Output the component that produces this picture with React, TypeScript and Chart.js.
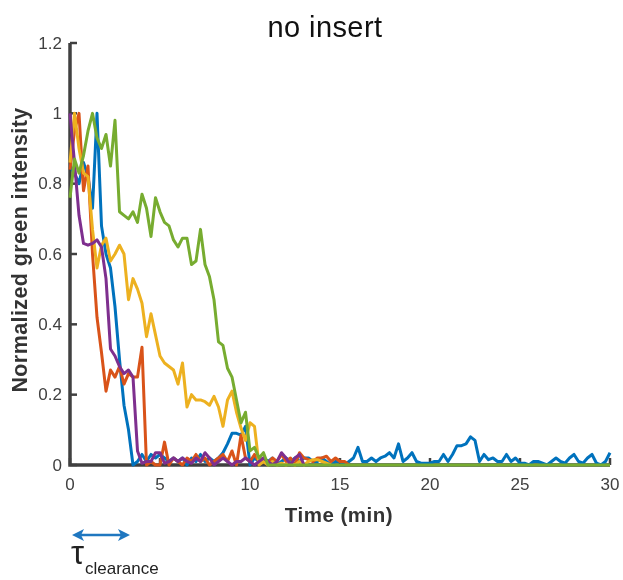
import React, { useEffect, useRef } from "react";
import { Chart, registerables } from "chart.js";

Chart.register(...registerables);

const TITLE = "no insert";
const X_LABEL = "Time (min)";
const Y_LABEL = "Normalized green intensity";
const ANNOT_MAIN = "τ";
const ANNOT_SUB = "clearance";

const X_TICKS = [0, 5, 10, 15, 20, 25, 30];
const X_TICK_LABELS = ["0", "5", "10", "15", "20", "25", "30"];
const Y_TICKS = [0, 0.2, 0.4, 0.6, 0.8, 1, 1.2];
const Y_TICK_LABELS = ["0", "0.2", "0.4", "0.6", "0.8", "1", "1.2"];

// sample times (min)
const TIME = [
  0, 0.25, 0.5, 0.75, 1, 1.25, 1.5, 1.75,
  2, 2.25, 2.5, 2.75, 3, 3.25, 3.5, 3.75,
  4, 4.25, 4.5, 4.75, 5, 5.25, 5.5, 5.75,
  6, 6.25, 6.5, 6.75, 7, 7.25, 7.5, 7.75,
  8, 8.25, 8.5, 8.75, 9, 9.25, 9.5, 9.75,
  10, 10.25, 10.5, 10.75, 11, 11.25, 11.5, 11.75,
  12, 12.25, 12.5, 12.75, 13, 13.25, 13.5, 13.75,
  14, 14.25, 14.5, 14.75, 15, 15.25, 15.5, 15.75,
  16, 16.25, 16.5, 16.75, 17, 17.25, 17.5, 17.75,
  18, 18.25, 18.5, 18.75, 19, 19.25, 19.5, 19.75,
  20, 20.25, 20.5, 20.75, 21, 21.25, 21.5, 21.75,
  22, 22.25, 22.5, 22.75, 23, 23.25, 23.5, 23.75,
  24, 24.25, 24.5, 24.75, 25, 25.25, 25.5, 25.75,
  26, 26.25, 26.5, 26.75, 27, 27.25, 27.5, 27.75,
  28, 28.25, 28.5, 28.75, 29, 29.25, 29.5, 29.75,
  30,
];

const BLUE = [
  0.85, 0.83, 0.8, 0.86, 0.82, 0.73, 1.0, 0.68,
  0.6, 0.56, 0.45, 0.3, 0.17, 0.1, 0.0, 0.01,
  0.03, 0.01, 0.03, 0.02, 0.03, 0.02, 0.01, 0.02,
  0.01, 0.02, 0.0, 0.02, 0.01, 0.03, 0.01, 0.02,
  0.01, 0.02, 0.035, 0.06, 0.09, 0.09, 0.085, 0.11,
  0.0, 0.02, 0.01, 0.02, 0.01, 0.02, 0.0, 0.01,
  0.02, 0.01, 0.02, 0.01, 0.02, 0.02, 0.01, 0.01,
  0.02, 0.01, 0.0, 0.01, 0.01, 0.0, 0.01, 0.02,
  0.05, 0.01, 0.01, 0.02, 0.01, 0.02, 0.025, 0.035,
  0.02, 0.06, 0.01, 0.02, 0.035, 0.01, 0.005, 0.005,
  0.005, 0.01, 0.01, 0.03, 0.01, 0.03, 0.055, 0.055,
  0.06, 0.08, 0.07, 0.01, 0.03, 0.015, 0.02, 0.01,
  0.01, 0.03, 0.01, 0.02, 0.005, 0.005, 0.0, 0.01,
  0.01, 0.005, 0.0, 0.01, 0.02, 0.01, 0.005, 0.02,
  0.03, 0.01, 0.005, 0.02, 0.03, 0.005, 0.0, 0.01,
  0.035,
];

const ORANGE = [
  0.84, 0.95, 1.0, 0.78, 0.85, 0.6, 0.42, 0.32,
  0.21, 0.27, 0.25, 0.28, 0.23, 0.26, 0.25, 0.25,
  0.335, 0.0, 0.01, 0.0, 0.0, 0.065, 0.0, 0.02,
  0.01, 0.0, 0.02, 0.01, 0.03, 0.01, 0.02, 0.0,
  0.01, 0.02, 0.03, 0.01, 0.04, 0.0, 0.085, 0.02,
  0.01, 0.03, 0.01, 0.02, 0.005, 0.02, 0.01, 0.03,
  0.01, 0.02, 0.0, 0.035, 0.02, 0.015, 0.01, 0.02,
  0.02, 0.025, 0.01, 0.02, 0.01, 0.01, 0.0,
];

const YELLOW = [
  0.86, 1.0, 0.9, 0.83, 0.82, 0.67, 0.56, 0.625,
  0.645, 0.58, 0.6, 0.625, 0.6, 0.47, 0.53, 0.5,
  0.46, 0.365, 0.43, 0.37, 0.31, 0.29, 0.28, 0.27,
  0.23, 0.29, 0.165, 0.2, 0.185, 0.185, 0.18, 0.17,
  0.195, 0.165, 0.11, 0.185, 0.21, 0.15, 0.105, 0.07,
  0.12, 0.11, 0.0, 0.01, 0.0, 0.01, 0.0, 0.005,
  0.0, 0.005, 0.0, 0.01, 0.0, 0.01, 0.015, 0.015,
  0.01, 0.005, 0.0,
];

const PURPLE = [
  1.0, 0.86, 0.71, 0.63, 0.625, 0.63, 0.64, 0.62,
  0.53, 0.33, 0.31, 0.28, 0.26, 0.27, 0.25, 0.04,
  0.005, 0.01, 0.01, 0.035, 0.035, 0.005, 0.01, 0.02,
  0.01, 0.02, 0.01, 0.005, 0.02, 0.01, 0.035, 0.02,
  0.0, 0.01, 0.02, 0.01, 0.0, 0.01, 0.01, 0.02,
  0.01, 0.0, 0.01, 0.02, 0.01, 0.0, 0.01, 0.035,
  0.02, 0.0, 0.02, 0.03, 0.0,
];

const GREEN = [
  0.76, 0.87, 0.83, 0.88, 0.95, 1.0, 0.93, 0.9,
  0.94, 0.85, 0.98, 0.72, 0.71, 0.7, 0.72, 0.69,
  0.77, 0.73, 0.65, 0.76, 0.72, 0.69, 0.68, 0.64,
  0.62, 0.645, 0.645, 0.57, 0.58, 0.67, 0.57, 0.535,
  0.47, 0.35, 0.34, 0.275, 0.25, 0.185, 0.12, 0.15,
  0.04, 0.05, 0.02, 0.035, 0.0, 0.0, 0.0, 0.0,
  0, 0, 0, 0, 0, 0, 0, 0,
  0, 0, 0, 0, 0, 0, 0, 0,
  0, 0, 0, 0, 0, 0, 0, 0,
  0, 0, 0, 0, 0, 0, 0, 0,
  0, 0, 0, 0, 0, 0, 0, 0,
  0, 0, 0, 0, 0, 0, 0, 0,
  0, 0, 0, 0, 0, 0, 0, 0,
  0, 0, 0, 0, 0, 0, 0, 0,
  0, 0, 0, 0, 0, 0, 0, 0,
  0,
];

const SERIES = [
  { name: "blue", values: BLUE, color: "#0072BD", order: 5 },
  { name: "orange", values: ORANGE, color: "#D95319", order: 4 },
  { name: "yellow", values: YELLOW, color: "#EDB120", order: 3 },
  { name: "purple", values: PURPLE, color: "#7E2F8E", order: 2 },
  { name: "green", values: GREEN, color: "#77AC30", order: 1 },
];

const FONT = "'Liberation Sans', Arial, Helvetica, sans-serif";
const AXIS_COLOR = "#404040";

function setSpacing(ctx: any, v: string) {
  try {
    ctx.letterSpacing = v;
  } catch (e) {
    /* ignore */
  }
}

const decorPlugin = {
  id: "decor",
  beforeDatasetsDraw(chart: any) {
    const { ctx, chartArea: a } = chart;
    const xs = chart.scales.x;
    const ys = chart.scales.y;
    ctx.save();
    ctx.strokeStyle = AXIS_COLOR;
    ctx.lineWidth = 3.5;
    ctx.lineJoin = "miter";
    ctx.beginPath();
    ctx.moveTo(a.left, a.top);
    ctx.lineTo(a.left, a.bottom);
    ctx.lineTo(a.right, a.bottom);
    ctx.stroke();
    ctx.lineWidth = 2.5;
    Y_TICKS.forEach((v) => {
      const py = ys.getPixelForValue(v);
      ctx.beginPath();
      ctx.moveTo(a.left, py);
      ctx.lineTo(a.left + 7, py);
      ctx.stroke();
    });
    X_TICKS.forEach((v) => {
      const px = xs.getPixelForValue(v);
      ctx.beginPath();
      ctx.moveTo(px, a.bottom);
      ctx.lineTo(px, a.bottom - 7);
      ctx.stroke();
    });
    ctx.restore();
  },
  afterDraw(chart: any) {
    const { ctx, chartArea: a } = chart;
    const xs = chart.scales.x;
    const ys = chart.scales.y;
    ctx.save();
    // tick labels
    ctx.fillStyle = AXIS_COLOR;
    ctx.font = `17px ${FONT}`;
    ctx.textAlign = "right";
    ctx.textBaseline = "middle";
    Y_TICKS.forEach((v, i) => {
      ctx.fillText(Y_TICK_LABELS[i], a.left - 8, ys.getPixelForValue(v) + 1);
    });
    ctx.textAlign = "center";
    ctx.textBaseline = "top";
    X_TICKS.forEach((v, i) => {
      ctx.fillText(X_TICK_LABELS[i], xs.getPixelForValue(v), a.bottom + 12);
    });
    // title
    ctx.fillStyle = "#111111";
    ctx.font = `29px ${FONT}`;
    setSpacing(ctx, "0.4px");
    ctx.textAlign = "center";
    ctx.textBaseline = "alphabetic";
    ctx.fillText(TITLE, 325, 37);
    // axis labels
    ctx.fillStyle = "#333333";
    ctx.font = `bold 20.5px ${FONT}`;
    setSpacing(ctx, "0.5px");
    ctx.textBaseline = "middle";
    ctx.fillText(X_LABEL, 339, 516);
    ctx.font = `bold 21.5px ${FONT}`;
    setSpacing(ctx, "0.4px");
    ctx.save();
    ctx.translate(21, 250);
    ctx.rotate(-Math.PI / 2);
    ctx.fillText(Y_LABEL, 0, 0);
    ctx.restore();
    setSpacing(ctx, "0px");
    // tau clearance annotation
    const ay = 535;
    const ax0 = 72;
    const ax1 = 130;
    ctx.strokeStyle = "#1F77C0";
    ctx.fillStyle = "#1F77C0";
    ctx.lineWidth = 2.5;
    ctx.beginPath();
    ctx.moveTo(ax0 + 6, ay);
    ctx.lineTo(ax1 - 6, ay);
    ctx.stroke();
    ctx.beginPath();
    ctx.moveTo(ax0, ay);
    ctx.lineTo(ax0 + 12, ay - 6);
    ctx.lineTo(ax0 + 9, ay);
    ctx.lineTo(ax0 + 12, ay + 6);
    ctx.closePath();
    ctx.fill();
    ctx.beginPath();
    ctx.moveTo(ax1, ay);
    ctx.lineTo(ax1 - 12, ay - 6);
    ctx.lineTo(ax1 - 9, ay);
    ctx.lineTo(ax1 - 12, ay + 6);
    ctx.closePath();
    ctx.fill();
    ctx.fillStyle = "#222222";
    ctx.textAlign = "left";
    ctx.textBaseline = "alphabetic";
    ctx.font = `33px ${FONT}`;
    ctx.fillText(ANNOT_MAIN, 71, 564);
    ctx.font = `17px ${FONT}`;
    ctx.fillText(ANNOT_SUB, 85, 574);
    ctx.restore();
  },
};

export default function App() {
  const ref = useRef<HTMLCanvasElement | null>(null);
  useEffect(() => {
    if (!ref.current) return;
    const chart = new Chart(ref.current, {
      type: "line",
      data: {
        datasets: SERIES.map((s) => ({
          label: s.name,
          data: s.values.map((v, i) => ({ x: TIME[i], y: v })),
          borderColor: s.color,
          backgroundColor: s.color,
          borderWidth: 3,
          pointRadius: 0,
          pointHoverRadius: 0,
          tension: 0,
          fill: false,
          clip: false as any,
          order: s.order,
          borderJoinStyle: "round" as const,
        })),
      },
      options: {
        responsive: false,
        animation: false,
        events: [],
        layout: { padding: { top: 43, right: 13, left: 0, bottom: 0 } },
        plugins: {
          legend: { display: false },
          title: { display: false },
          tooltip: { enabled: false },
        },
        scales: {
          x: {
            type: "linear",
            min: 0,
            max: 30,
            grid: { display: false },
            border: { display: false },
            ticks: { display: false },
            afterFit: (s: any) => {
              s.height = 115;
            },
          },
          y: {
            type: "linear",
            min: 0,
            max: 1.2,
            grid: { display: false },
            border: { display: false },
            ticks: { display: false },
            afterFit: (s: any) => {
              s.width = 70;
            },
          },
        },
      },
      plugins: [decorPlugin],
    });
    return () => chart.destroy();
  }, []);
  return (
    <div style={{ position: "absolute", left: 0, top: 0, width: 623, height: 580 }}>
      <canvas ref={ref} width={623} height={580} />
    </div>
  );
}
